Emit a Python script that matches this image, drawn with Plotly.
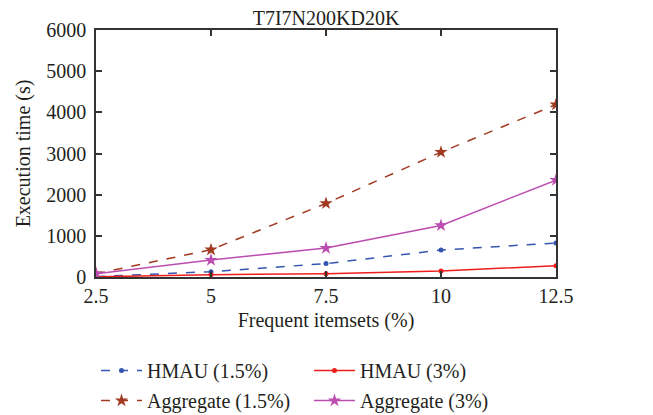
import plotly.graph_objects as go

x_vals = [2.5, 5, 7.5, 10, 12.5]
x_labels = ["2.5", "5", "7.5", "10", "12.5"]
y_ticks = [0, 1000, 2000, 3000, 4000, 5000, 6000]
hmau_15 = [10, 130, 325, 655, 825]
hmau_3 = [5, 57, 81, 146, 275]
agg_15 = [80, 663, 1787, 3032, 4188]
agg_3 = [80, 412, 703, 1253, 2353]

FONT = "Liberation Serif"
TXT = "#231f20"
FS = 20

fig = go.Figure()
fig.add_trace(go.Scatter(x=x_vals, y=hmau_15, name="HMAU (1.5%)", mode="lines+markers",
                         line=dict(color="#3556b0", width=1.5, dash="dash"),
                         marker=dict(symbol="circle", size=5, color="#3556b0"),
                         legend="legend", legendgroup="a"))
fig.add_trace(go.Scatter(x=x_vals, y=agg_15, name="Aggregate (1.5%)", mode="lines+markers",
                         line=dict(color="#a23a22", width=1.5, dash="dash"),
                         marker=dict(symbol="star", size=10, color="#a23a22"),
                         legend="legend", legendgroup="b"))
fig.add_trace(go.Scatter(x=x_vals, y=hmau_3, name="HMAU (3%)", mode="lines+markers",
                         line=dict(color="#f01c1c", width=1.5),
                         marker=dict(symbol="circle", size=5, color="#f01c1c"),
                         legend="legend2", legendgroup="c"))
fig.add_trace(go.Scatter(x=x_vals, y=agg_3, name="Aggregate (3%)", mode="lines+markers",
                         line=dict(color="#bb4db0", width=1.5),
                         marker=dict(symbol="star", size=10, color="#bb4db0"),
                         legend="legend2", legendgroup="d"))

axis_common = dict(showline=True, linecolor="#333", linewidth=1.5, mirror="ticks",
                   ticks="inside", ticklen=6, tickwidth=1.5, tickcolor="#333",
                   showgrid=False, zeroline=False, automargin=False,
                   tickfont=dict(family=FONT, size=FS, color=TXT))

legend_common = dict(xanchor="left", yanchor="top",
                     orientation="v", tracegroupgap=1, itemwidth=41,
                     font=dict(family=FONT, size=FS, color=TXT),
                     bgcolor="rgba(0,0,0,0)")

fig.update_layout(
    width=645, height=460,
    margin=dict(l=88, r=97, t=22, b=191),
    paper_bgcolor="white", plot_bgcolor="white",
    font=dict(family=FONT, size=FS, color=TXT),
    title=dict(text="T7I7N200KD20K", x=0.5, xref="paper", xanchor="center",
               y=1.0, yref="container", yanchor="top", pad=dict(t=3),
               font=dict(family=FONT, size=FS, color=TXT)),
    xaxis=dict(range=[2.5, 12.5], tickvals=x_vals, ticktext=x_labels,
               title=dict(text="Frequent itemsets (%)", font=dict(family=FONT, size=FS, color=TXT), standoff=7),
               **axis_common),
    yaxis=dict(range=[0, 6000], tickvals=y_ticks,
               title=dict(text="Execution time (s)", font=dict(family=FONT, size=FS, color=TXT), standoff=10),
               ticklabelstandoff=4,
               **axis_common),
    legend=dict(x=0.0, y=-0.300, **legend_common),
    legend2=dict(x=0.463, y=-0.300, **legend_common),
)

fig.write_html("out.html")
